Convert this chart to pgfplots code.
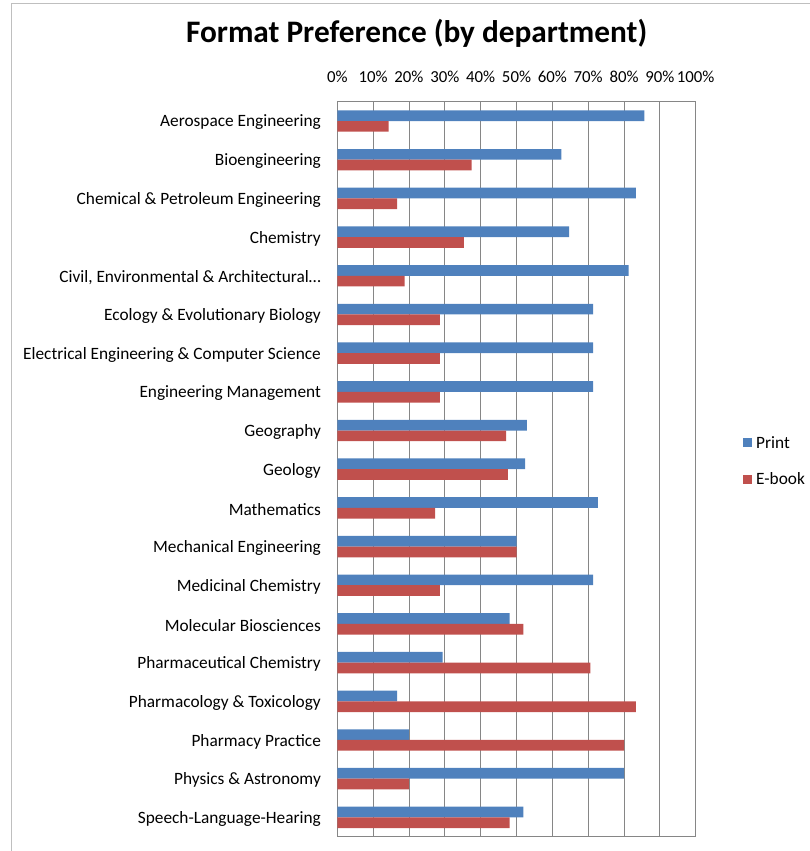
\documentclass[border=0pt]{standalone}
\usepackage{fontspec}
\setmainfont{Carlito}
\usepackage{pgfplots}
\pgfplotsset{compat=1.18}
\definecolor{printblue}{HTML}{4F81BD}
\definecolor{ebookred}{HTML}{C0504D}
\definecolor{gridgray}{HTML}{868686}
\definecolor{framegray}{HTML}{BFBFBF}
\begin{document}
\begin{tikzpicture}
\useasboundingbox (0pt,0pt) rectangle (809pt,851pt);
\draw[framegray, line width=1pt] (11pt,-2pt) -- (11pt,847pt) -- (811pt,847pt);
\node[anchor=base, inner sep=0pt, font=\fontsize{31.3}{37}\selectfont\bfseries] at (416.7pt,808pt) {Format Preference (by department)};
\begin{axis}[
  at={(337.3pt,14.3pt)}, anchor=south west,
  scale only axis, width=358.4pt, height=735pt,
  xbar, bar width=10.7pt,
  xmin=0, xmax=100, ymin=-0.5, ymax=18.5,
  xtick={0,10,...,100},
  xticklabel pos=upper,
  xticklabel={\pgfmathprintnumber{\tick}\%},
  /pgf/number format/assume math mode=true,
  xticklabel style={anchor=base, inner sep=0pt, yshift=19pt, font=\fontsize{16.8}{19}\selectfont},
  ytick={0,...,18},
  yticklabels={Speech-Language-Hearing, Physics \& Astronomy, Pharmacy Practice, Pharmacology \& Toxicology, Pharmaceutical Chemistry, Molecular Biosciences, Medicinal Chemistry, Mechanical Engineering, Mathematics, Geology, Geography, Engineering Management, Electrical Engineering \& Computer Science, Ecology \& Evolutionary Biology, {Civil, Environmental \& Architectural\dots}, Chemistry, Chemical \& Petroleum Engineering, Bioengineering, Aerospace Engineering},
  yticklabel style={anchor=east, inner sep=0pt, xshift=-12pt, yshift=-1.5pt, font=\fontsize{17.3}{20}\selectfont},
  major tick style={draw=none},
  xmajorgrids, grid style={gridgray, line width=0.9pt},
  axis line style={gridgray, line width=0.9pt},
  legend style={at={(1.132,0.511)}, anchor=west, draw=none, fill=none,
    font=\fontsize{17.3}{20}\selectfont, row sep=19pt, inner sep=0pt,
    nodes={inner xsep=4pt}},
  legend cell align=left,
  legend image code/.code={\fill[#1] (0pt,-4.5pt) rectangle (9pt,4.5pt);},
]
\addplot[fill=printblue, draw=none, bar shift=5.35pt] coordinates {
  (51.9,0) (80,1) (20,2) (16.7,3) (29.4,4) (48.1,5) (71.4,6) (50,7) (72.7,8) (52.4,9)
  (52.9,10) (71.4,11) (71.4,12) (71.4,13) (81.25,14) (64.7,15) (83.3,16) (62.5,17) (85.7,18)};
\addlegendentry{Print}
\addplot[fill=ebookred, draw=none, bar shift=-5.35pt] coordinates {
  (48.1,0) (20,1) (80,2) (83.3,3) (70.6,4) (51.9,5) (28.6,6) (50,7) (27.3,8) (47.6,9)
  (47.1,10) (28.6,11) (28.6,12) (28.6,13) (18.75,14) (35.3,15) (16.7,16) (37.5,17) (14.3,18)};
\addlegendentry{E-book}
\end{axis}
\end{tikzpicture}
\end{document}
